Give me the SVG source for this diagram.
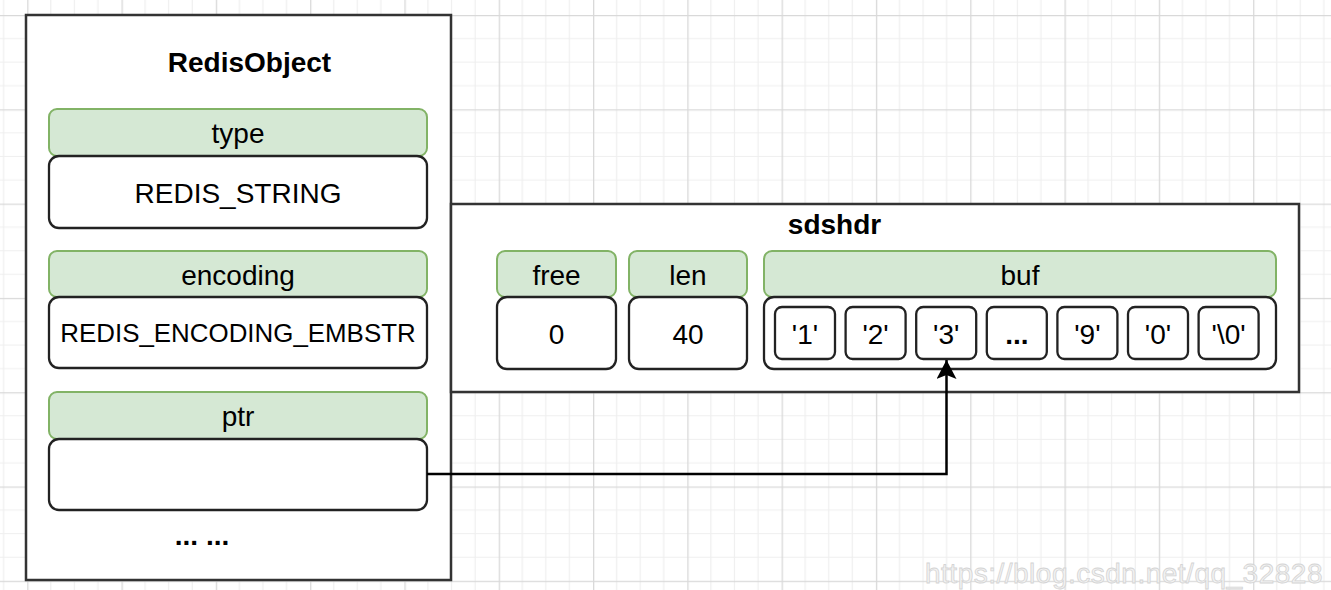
<svg xmlns="http://www.w3.org/2000/svg" width="1331" height="590" viewBox="0 0 1331 590">
<defs>
<pattern id="grid" patternUnits="userSpaceOnUse" x="27.2" y="15" width="94.3" height="94.3">
<path d="M23.58 0V94.3M47.15 0V94.3M70.73 0V94.3M0 23.58H94.3M0 47.15H94.3M0 70.73H94.3" stroke="#efefef" stroke-width="1.2" fill="none"/>
<path d="M0.6 0V94.3M0 0.6H94.3" stroke="#d9d9d9" stroke-width="1.4" fill="none"/>
</pattern>
<marker id="arrow" viewBox="0 0 20 20" refX="19" refY="10" markerWidth="20" markerHeight="20" markerUnits="userSpaceOnUse" orient="auto">
<path d="M19 10L0 0L4 10L0 20Z" fill="#000"/>
</marker>
<style>
text{font-family:"Liberation Sans",Arial,sans-serif;font-size:28px;fill:#000;text-anchor:middle}
.b{font-weight:bold}
.container{fill:#fff;stroke:#333;stroke-width:2.5}
.hdr{fill:#d5e8d4;stroke:#82b366;stroke-width:2}
.val{fill:#fff;stroke:#222;stroke-width:2.3}
.cell{fill:#fff;stroke:#222;stroke-width:2.3}
.wm{font-size:28px;fill:#f2f2f2;stroke:#d4d4d4;stroke-width:0.8;text-anchor:start;letter-spacing:0.5px}
</style>
</defs>
<rect width="1331" height="590" fill="#fff"/>
<rect width="1331" height="590" fill="url(#grid)"/>

<g id="redisobject">
<rect class="container" x="26" y="15" width="425" height="565"/>
<text class="b" x="249.5" y="72">RedisObject</text>
<text class="b" x="202" y="545">... ...</text>
</g>
<g id="type">
<rect class="hdr" x="49" y="109" width="378" height="47" rx="8"/>
<text x="238" y="143">type</text>
<rect class="val" x="49" y="156" width="378" height="72" rx="10"/>
<text x="238" y="203">REDIS_STRING</text>
</g>
<g id="encoding">
<rect class="hdr" x="49" y="251" width="378" height="46" rx="8"/>
<text x="238" y="285">encoding</text>
<rect class="val" x="49" y="297" width="378" height="71" rx="10"/>
<text x="238" y="342" style="font-size:25.9px">REDIS_ENCODING_EMBSTR</text>
</g>
<g id="ptr">
<rect class="hdr" x="49" y="392" width="378" height="47" rx="8"/>
<text x="238" y="426">ptr</text>
<rect class="val" x="49" y="439" width="378" height="71" rx="10"/>
</g>

<g id="sdshdr">
<rect class="container" x="451" y="204" width="848" height="188"/>
<text class="b" x="834.5" y="234">sdshdr</text>
</g>
<g id="free">
<rect class="hdr" x="497" y="251" width="119" height="46" rx="8"/>
<text x="556.5" y="285">free</text>
<rect class="val" x="497" y="297" width="119" height="72" rx="10"/>
<text x="556.5" y="344">0</text>
</g>
<g id="len">
<rect class="hdr" x="629" y="251" width="118" height="46" rx="8"/>
<text x="688" y="285">len</text>
<rect class="val" x="629" y="297" width="118" height="72" rx="10"/>
<text x="688" y="344">40</text>
</g>
<g id="buf">
<rect class="hdr" x="764" y="251" width="512" height="46" rx="8"/>
<text x="1020" y="285">buf</text>
<rect class="val" x="764" y="297" width="512" height="72" rx="10"/>
</g>
<g id="cells">
<g id="c1"><rect class="cell" x="775" y="307" width="60" height="52" rx="7"/><text x="805" y="344">'1'</text></g>
<g id="c2"><rect class="cell" x="845.6" y="307" width="60" height="52" rx="7"/><text x="875.6" y="344">'2'</text></g>
<g id="c3"><rect class="cell" x="916.2" y="307" width="60" height="52" rx="7"/><text x="946.2" y="344">'3'</text></g>
<g id="c4"><rect class="cell" x="986.8" y="307" width="60" height="52" rx="7"/><text class="b" x="1016.8" y="344">...</text></g>
<g id="c5"><rect class="cell" x="1057.4" y="307" width="60" height="52" rx="7"/><text x="1087.4" y="344">'9'</text></g>
<g id="c6"><rect class="cell" x="1128" y="307" width="60" height="52" rx="7"/><text x="1158" y="344">'0'</text></g>
<g id="c7"><rect class="cell" x="1198.6" y="307" width="60" height="52" rx="7"/><text x="1228.6" y="344">'\0'</text></g>
</g>

<g id="connectors">
<path d="M427 474H946.5V360" fill="none" stroke="#000" stroke-width="2.5" marker-end="url(#arrow)"/>
</g>

<text class="wm" x="925" y="583">https://blog.csdn.net/qq_32828</text>
</svg>
